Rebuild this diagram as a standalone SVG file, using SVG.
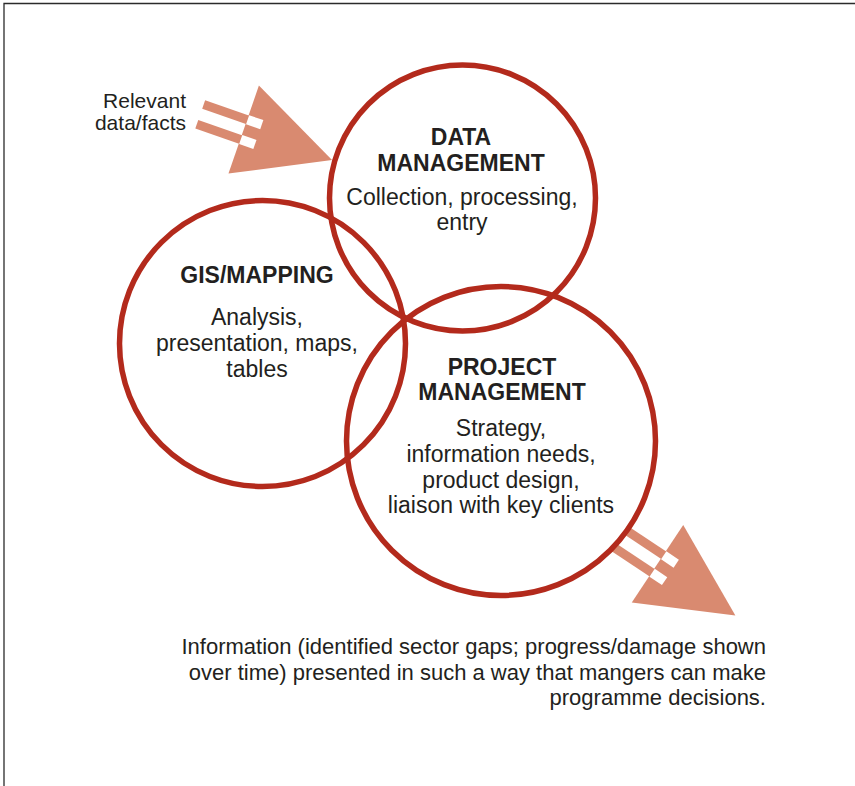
<svg xmlns="http://www.w3.org/2000/svg" width="855" height="786" viewBox="0 0 855 786">
  <style>
    .ring { fill: none; stroke: #b32a1c; stroke-width: 5.5; }
    .t { font-family: "Liberation Sans", Arial, sans-serif; fill: #231f20; text-anchor: middle; font-size: 23px; }
    .h { font-weight: bold; }
    .lbl { font-family: "Liberation Sans", Arial, sans-serif; fill: #231f20; text-anchor: end; }
    .arrowfill { fill: #d98a70; }
    .notch { fill: #ffffff; }
  </style>
  <defs>
    <g id="fastArrow">
      <rect class="arrowfill" x="-46" y="-15" width="47" height="9"/>
      <rect class="arrowfill" x="-46" y="6" width="47" height="9"/>
      <polygon class="arrowfill" points="0,-46.5 0,46.5 93.5,0"/>
      <rect class="notch" x="0.5" y="-15.3" width="15" height="9.6"/>
      <rect class="notch" x="0.5" y="5.7" width="15" height="9.6"/>
    </g>
  </defs>
  <rect x="0" y="0" width="855" height="786" fill="#ffffff"/>
  <path d="M4,786 V3.5 H855" fill="none" stroke="#2b2b2b" stroke-width="1.3"/>

  <g id="connectors">
    <use href="#fastArrow" transform="translate(243.7,129.5) rotate(19.1)"/>
    <use href="#fastArrow" transform="translate(657.5,563.8) rotate(33.6)"/>
  </g>

  <g id="input-label">
    <text class="lbl" font-size="21" x="186" y="108">Relevant</text>
    <text class="lbl" font-size="21" x="186" y="130">data/facts</text>
  </g>

  <g id="data-management">
    <circle class="ring" cx="462.5" cy="198" r="133"/>
    <text class="t h" x="461" y="145">DATA</text>
    <text class="t h" x="461" y="170.5">MANAGEMENT</text>
    <text class="t" x="462" y="205">Collection, processing,</text>
    <text class="t" x="462" y="230">entry</text>
  </g>

  <g id="gis-mapping">
    <circle class="ring" cx="262.5" cy="343.5" r="143"/>
    <text class="t h" x="257" y="282.5">GIS/MAPPING</text>
    <text class="t" x="257" y="325">Analysis,</text>
    <text class="t" x="257" y="351">presentation, maps,</text>
    <text class="t" x="257" y="376.5">tables</text>
  </g>

  <g id="project-management">
    <circle class="ring" cx="501" cy="441" r="154.5"/>
    <text class="t h" x="502" y="375">PROJECT</text>
    <text class="t h" x="502" y="399.5">MANAGEMENT</text>
    <text class="t" x="501" y="436">Strategy,</text>
    <text class="t" x="501" y="461.5">information needs,</text>
    <text class="t" x="501" y="487.5">product design,</text>
    <text class="t" x="501" y="513">liaison with key clients</text>
  </g>

  <g id="output-label">
    <text class="lbl" font-size="22" x="766" y="654">Information (identified sector gaps; progress/damage shown</text>
    <text class="lbl" font-size="22" x="766" y="679.5">over time) presented in such a way that mangers can make</text>
    <text class="lbl" font-size="22" x="766" y="704.5">programme decisions.</text>
  </g>
</svg>
